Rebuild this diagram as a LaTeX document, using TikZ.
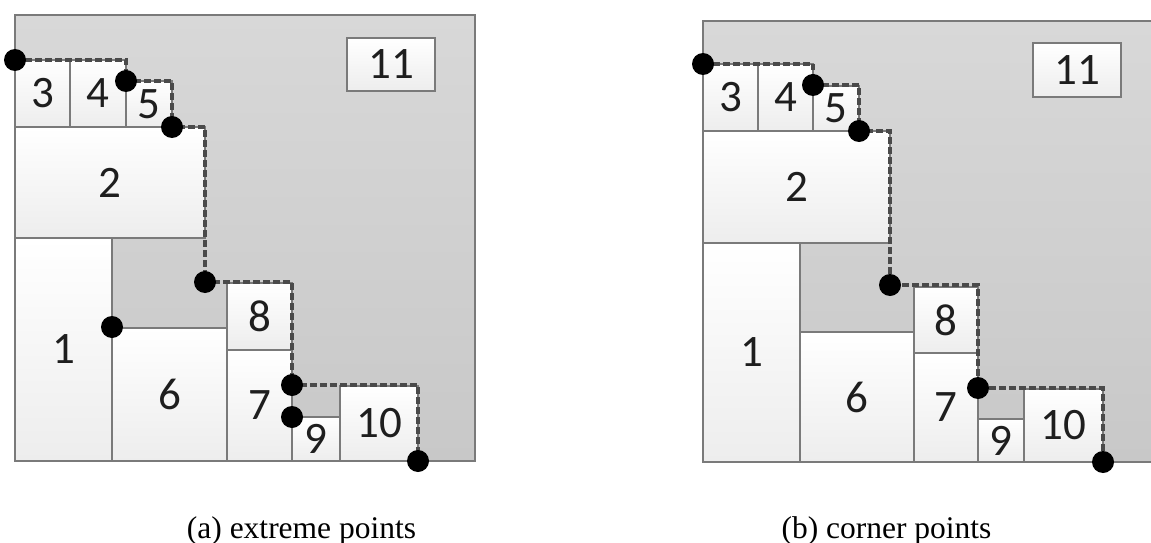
\documentclass[tikz,border=0pt]{standalone}
\usepackage{fontspec}
\setmainfont{Liberation Serif}
\newfontfamily\lblfont{Carlito}
\definecolor{bgtop}{HTML}{D8D8D8}
\definecolor{bgbot}{HTML}{C8C8C8}
\definecolor{framec}{HTML}{7A7A7A}
\definecolor{boxedge}{HTML}{7A7A7A}
\definecolor{boxbot}{HTML}{EDEDED}
\definecolor{dashc}{HTML}{4A4A4A}
\definecolor{txtc}{HTML}{1E1E1E}
\tikzset{
  frame/.style={draw=framec, line width=2.2pt, top color=bgtop, bottom color=bgbot},
  box/.style={draw=boxedge, line width=1.5pt, top color=white, bottom color=boxbot},
  lbl/.style={font=\lblfont\fontsize{45}{45}\selectfont, text=txtc, inner sep=0pt},
  dot/.style={circle, fill=black, inner sep=0pt, minimum size=22pt},
  dashline/.style={draw=dashc, line width=3.2pt, dash pattern=on 6.5pt off 3.5pt},
  captext/.style={font=\fontsize{31.5}{34}\selectfont, inner sep=0pt, anchor=base},
}
\newcommand{\bx}[6]{%
  \path[box] (#2,#3) rectangle (#4,#5);
  \node[lbl] (#1) at ({(#2+#4)/2},{(#3+#5)/2}) {#6};
}
\begin{document}
\begin{tikzpicture}[x=1pt,y=-1pt]
\useasboundingbox (0,0) rectangle (1151,543);
% ---------------- left panel (a)
\path[frame] (15,15) rectangle (475,461);
\bx{la3}{15}{60}{70}{127}{3}
\bx{la4}{70}{60}{126}{127}{4}
\bx{la5}{126}{81}{172}{127}{5}
\bx{la2}{15}{127}{205}{238}{2}
\bx{la1}{15}{238}{112}{461}{1}
\bx{la6}{112}{328}{227}{461}{6}
\bx{la8}{227}{283}{292}{350}{8}
\bx{la7}{227}{350}{292}{461}{7}
\bx{la9}{292}{417}{340}{461}{9}
\bx{la10}{340}{386}{418}{461}{10}
\bx{la11}{347}{38}{435}{91}{11}
\coordinate (ap1) at (15,60);
\coordinate (ap2) at (126,81);
\coordinate (ap3) at (172,127);
\coordinate (ap4) at (205,282);
\coordinate (ap5) at (112,327);
\coordinate (ap6) at (292,385);
\coordinate (ap7) at (292,417);
\coordinate (ap8) at (418,461);
\draw[dashline] (ap1) -| (ap2) -| (ap3) -| (ap4) -| (ap6) -| (ap8);
\foreach \p in {1,...,8} \node[dot] (ad\p) at (ap\p) {};
\node[captext] (capa) at (301.5,538) {(a) extreme points};
% ---------------- right panel (b)
\path[frame] (703,21) rectangle (1165,462);
\bx{lb3}{703}{64}{758}{131}{3}
\bx{lb4}{758}{64}{813}{131}{4}
\bx{lb5}{813}{86}{859}{131}{5}
\bx{lb2}{703}{131}{890}{243}{2}
\bx{lb1}{703}{243}{800}{462}{1}
\bx{lb6}{800}{332}{914}{462}{6}
\bx{lb8}{914}{287}{978}{353}{8}
\bx{lb7}{914}{353}{978}{462}{7}
\bx{lb9}{978}{419}{1024}{462}{9}
\bx{lb10}{1024}{389}{1103}{462}{10}
\bx{lb11}{1033}{43}{1121}{97}{11}
\coordinate (bp1) at (703,64);
\coordinate (bp2) at (813,85);
\coordinate (bp3) at (859,131);
\coordinate (bp4) at (890,285);
\coordinate (bp5) at (978,388);
\coordinate (bp6) at (1103,462);
\draw[dashline] (bp1) -| (bp2) -| (bp3) -| (bp4) -| (bp5) -| (bp6);
\foreach \p in {1,...,6} \node[dot] (bd\p) at (bp\p) {};
\node[captext] (capb) at (886.5,538) {(b) corner points};
\end{tikzpicture}
\end{document}
